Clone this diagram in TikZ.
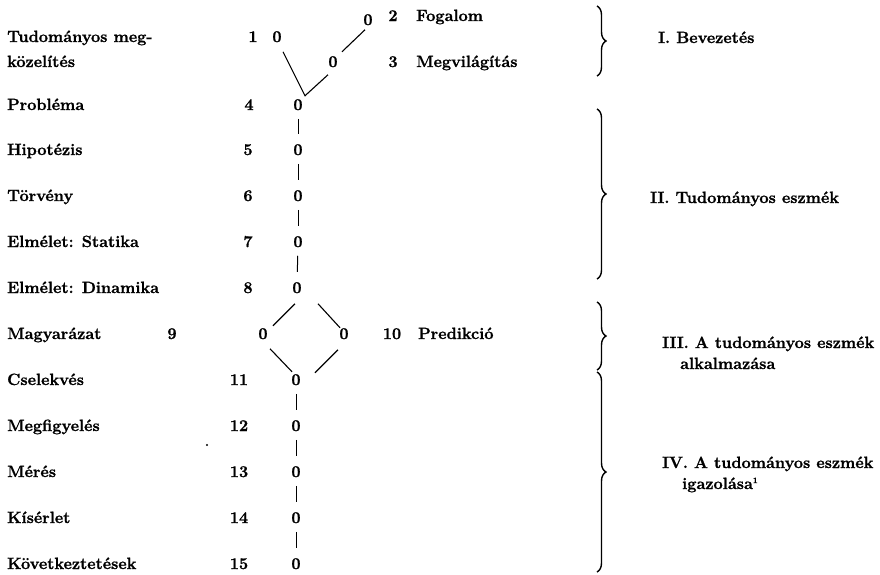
\documentclass[tikz,border=0pt]{standalone}
\usepackage{fontspec}
\setmainfont{Latin Modern Roman}[BoldFeatures={FakeBold=1.2}]
\usetikzlibrary{calc,decorations.pathreplacing}
\begin{document}
\begin{tikzpicture}[x=1pt,y=-1pt,
  lbl/.style={inner sep=0pt, anchor=base west, font=\fontsize{16.3}{19}\selectfont\bfseries},
  num/.style={inner sep=0pt, anchor=base, font=\fontsize{16.3}{19}\selectfont\bfseries},
  link/.style={line width=1.1pt},
  tick/.style={line width=1pt, shorten <=14pt, shorten >=16pt},
  brc/.style={decorate, decoration={brace, amplitude=9pt}, line width=1.4pt}]
\useasboundingbox (0,0) rectangle (880,574);

% --- top block
\node[lbl] (t1a) at (7,42) {Tudományos meg-};
\node[lbl] (t1b) at (7,67) {közelítés};
\node[num] (n1) at (253,42) {1};
\node[num] (z1) at (277,42) {0};
\node[num] (z2) at (368,25) {0};
\node[num] (n2) at (393,21) {2};
\node[lbl] (t2) at (416,21) {Fogalom};
\node[num] (z3) at (333,67) {0};
\node[num] (n3) at (393,67) {3};
\node[lbl] (t3) at (416,67) {Megvilágítás};

% --- rows 4-8
\node[lbl] (t4) at (7,110) {Probléma};
\node[num] (n4) at (249,110) {4};
\node[num] (z4) at (298,110) {0};
\node[lbl] (t5) at (7,155) {Hipotézis};
\node[num] (n5) at (248,155) {5};
\node[num] (z5) at (298,155) {0};
\node[lbl] (t6) at (7,201) {Törvény};
\node[num] (n6) at (248,201) {6};
\node[num] (z6) at (298,201) {0};
\node[lbl] (t7) at (7,247) {Elmélet: Statika};
\node[num] (n7) at (248,247) {7};
\node[num] (z7) at (298,247) {0};
\node[lbl] (t8) at (7,293) {Elmélet: Dinamika};
\node[num] (n8) at (248,293) {8};
\node[num] (z8) at (297,293) {0};

% --- row 9/10
\node[lbl] (t9) at (7,339) {Magyarázat};
\node[num] (n9) at (172,339) {9};
\node[num] (zL) at (263,339) {0};
\node[num] (zR) at (344,339) {0};
\node[num] (n10) at (392,339) {10};
\node[lbl] (t10) at (418,339) {Predikció};

% --- rows 11-15
\node[lbl] (t11) at (7,385) {Cselekvés};
\node[num] (n11) at (239,385) {11};
\node[num] (z11) at (296,385) {0};
\node[lbl] (t12) at (7,431) {Megfigyelés};
\node[num] (n12) at (239,431) {12};
\node[num] (z12) at (296,431) {0};
\node[lbl] (t13) at (7,477) {Mérés};
\node[num] (n13) at (239,477) {13};
\node[num] (z13) at (296,477) {0};
\node[lbl] (t14) at (7,523) {Kísérlet};
\node[num] (n14) at (239,523) {14};
\node[num] (z14) at (296,523) {0};
\node[lbl] (t15) at (7,569) {Következtetések};
\node[num] (n15) at (239,569) {15};
\node[num] (z15) at (296,569) {0};

% --- connectors, top
\coordinate (v4) at ($(z4.center)+(7,-9)$);
\draw[link] ($(z1.center)+(6,15)$) -- (v4) -- ($(z3.center)+(-5,13)$);
\draw[link] ($(z3.center)+(9,-10)$) -- ($(z2.center)+(-3,10)$);

% --- ticks
\foreach \a/\b in {z4/z5,z5/z6,z6/z7,z7/z8,z11/z12,z12/z13,z13/z14,z14/z15}
  \draw[tick] (\a.center) -- (\b.center);

% --- diamond
\draw[link] ($(z8.center)+(-2,16)$) -- ($(zL.center)+(10,-8)$);
\draw[link] ($(z8.center)+(21,16)$) -- ($(zR.center)+(-4,-6)$);
\draw[link] ($(zL.center)+(7,15)$) -- ($(z11.center)+(-4,-8)$);
\draw[link] ($(zR.center)+(-6,16)$) -- ($(z11.center)+(19,-7)$);

% --- speck
\fill (207,445) circle (1.1);

% --- braces
\draw[brc] (597,6) -- (597,76);
\draw[brc] (597,109) -- (597,279);
\draw[brc] (597,302) -- (597,370);
\draw[brc] (597,372) -- (597,572);

% --- section labels
\node[lbl] (s1) at (658,43) {I. Bevezetés};
\node[lbl] (s2) at (650,203) {II. Tudományos eszmék};
\node[lbl] (s3) at (662,348) {III. A tudományos eszmék};
\node[lbl] (s3b) at (680,369) {alkalmazása};
\node[lbl] (s4) at (662,468) {IV. A tudományos eszmék};
\node[lbl] (s4b) at (682,489) {igazolása\raisebox{6pt}{\fontsize{8}{8}\selectfont 1}};
\end{tikzpicture}
\end{document}
